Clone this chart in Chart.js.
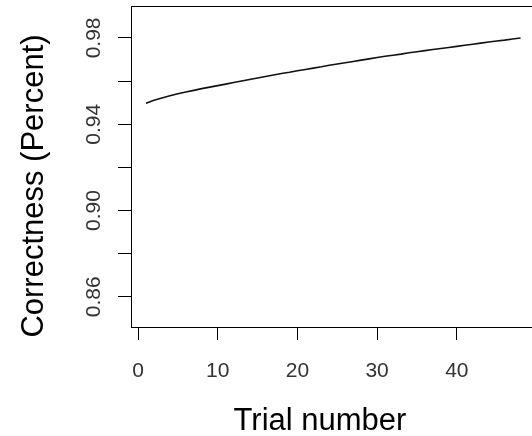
<!DOCTYPE html>
<html>
<head>
<meta charset="utf-8">
<script src="https://cdn.jsdelivr.net/npm/chart.js@4"></script>
<style>
  html, body { margin: 0; padding: 0; background: #fff; overflow: hidden; }
  #wrap { width: 532px; height: 436px; overflow: hidden; }
</style>
</head>
<body>
<div id="wrap"><canvas id="chart" width="540" height="436"></canvas></div>
<script>
'use strict';

// trial index and correctness
const trials = [];
for (let i = 1; i <= 48; i++) trials.push(i);
const correctness = [
  0.9497, 0.9511, 0.9522, 0.9532, 0.9541, 0.9549, 0.9557, 0.9565, 0.9572, 0.9579,
  0.9586, 0.9593, 0.9600, 0.9607, 0.9614, 0.9621, 0.9628, 0.9635, 0.9641, 0.9648,
  0.9654, 0.9660, 0.9666, 0.9673, 0.9679, 0.9685, 0.9691, 0.9697, 0.9703, 0.9709,
  0.9715, 0.9720, 0.9725, 0.9731, 0.9736, 0.9741, 0.9746, 0.9751, 0.9756, 0.9761,
  0.9766, 0.9771, 0.9776, 0.9781, 0.9786, 0.9790, 0.9795, 0.9800
];
const xTicks = [0, 10, 20, 30, 40];
const yTicks = [0.86, 0.88, 0.90, 0.92, 0.94, 0.96, 0.98];
// R drops every other label because they would overlap
const yTickLabels = [0.86, 0.90, 0.94, 0.98];

const FONT = '"Liberation Sans", Arial, sans-serif';

// box, rotated y labels and axis titles, R style
const decor = {
  id: 'decor',
  afterDraw(chart) {
    const { ctx, chartArea: a, scales: { y } } = chart;
    ctx.save();
    ctx.strokeStyle = '#000';
    ctx.lineWidth = 1;
    ctx.strokeRect(a.left + 0.5, a.top + 0.5, a.right - a.left, a.bottom - a.top);

    ctx.fillStyle = '#333';
    ctx.font = '21px ' + FONT;
    ctx.textAlign = 'center';
    ctx.textBaseline = 'alphabetic';
    yTickLabels.forEach(v => {
      ctx.save();
      ctx.translate(a.left - 31, y.getPixelForValue(v));
      ctx.rotate(-Math.PI / 2);
      ctx.fillText(v.toFixed(2), 0, 0);
      ctx.restore();
    });

    ctx.fillStyle = '#000';
    ctx.font = '31px ' + FONT;
    ctx.fillText('Trial number', 320, 430);
    ctx.save();
    ctx.translate(43, 186);
    ctx.rotate(-Math.PI / 2);
    ctx.fillText('Correctness (Percent)', 0, 0);
    ctx.restore();
    ctx.restore();
  }
};

new Chart(document.getElementById('chart'), {
  type: 'line',
  data: {
    datasets: [{
      data: trials.map((t, i) => ({ x: t, y: correctness[i] })),
      borderColor: '#111',
      borderWidth: 1.6,
      pointRadius: 0,
      tension: 0,
      fill: false
    }]
  },
  options: {
    responsive: false,
    animation: false,
    layout: { padding: { top: 6, right: 5, left: 0, bottom: 0 } },
    plugins: { legend: { display: false }, tooltip: { enabled: false } },
    scales: {
      x: {
        type: 'linear',
        min: -0.88,
        max: 49.81,
        afterBuildTicks: s => { s.ticks = xTicks.map(v => ({ value: v })); },
        afterFit: s => { s.height = 109; },
        grid: { drawOnChartArea: false, drawTicks: true, tickLength: 13, color: '#000' },
        border: { display: false },
        ticks: { color: '#333', font: { size: 21, family: FONT }, padding: 19, maxRotation: 0 }
      },
      y: {
        min: 0.846,
        max: 0.9948,
        afterBuildTicks: s => { s.ticks = yTicks.map(v => ({ value: v })); },
        afterFit: s => { s.width = 131; },
        grid: { drawOnChartArea: false, drawTicks: true, tickLength: 13, color: '#000' },
        border: { display: false },
        ticks: { display: false }
      }
    }
  },
  plugins: [decor]
});
</script>
</body>
</html>
